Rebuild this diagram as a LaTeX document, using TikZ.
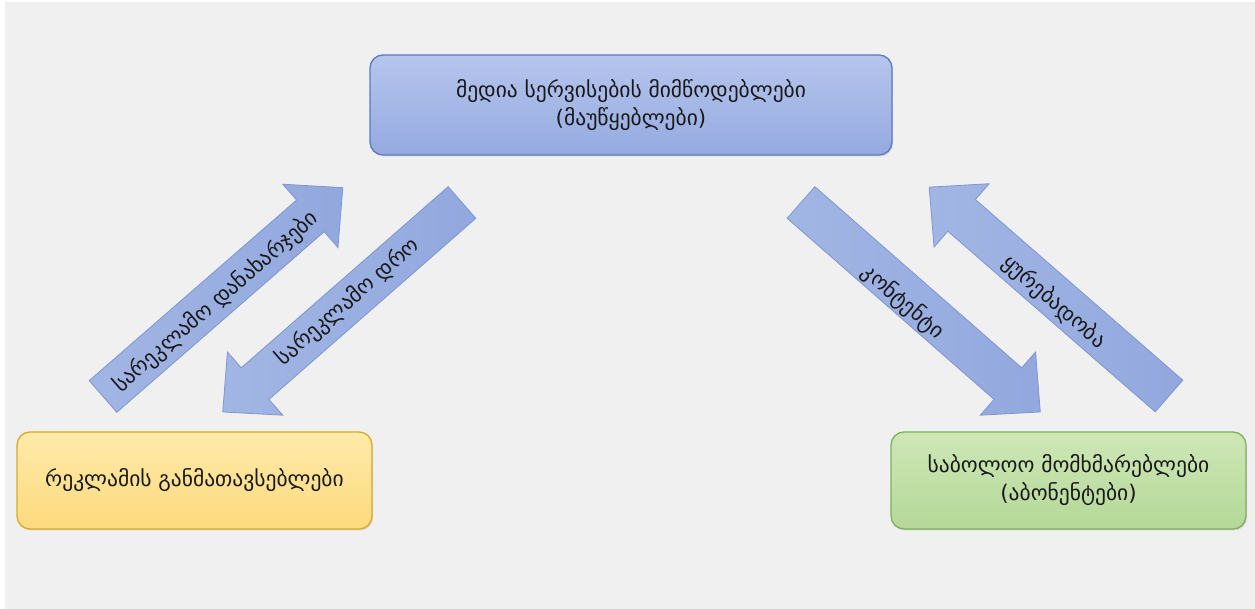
\documentclass[tikz,border=0pt]{standalone}
\usepackage{fontspec}
\setmainfont{DejaVu Sans}
\usetikzlibrary{shadows}
\definecolor{bgc}{RGB}{240,240,240}
\definecolor{bluetop}{RGB}{182,197,237}
\definecolor{bluebot}{RGB}{148,170,224}
\definecolor{blueline}{RGB}{92,122,190}
\definecolor{arrfill}{RGB}{162,182,228}
\definecolor{arrfill2}{RGB}{146,168,222}
\definecolor{arrline}{RGB}{125,150,212}
\definecolor{yeltop}{RGB}{254,234,170}
\definecolor{yelbot}{RGB}{253,218,125}
\definecolor{yelline}{RGB}{218,170,45}
\definecolor{grntop}{RGB}{206,231,182}
\definecolor{grnbot}{RGB}{180,216,152}
\definecolor{grnline}{RGB}{125,178,92}
\definecolor{txt}{RGB}{25,25,25}
\tikzset{
  box/.style={rounded corners=13pt, line width=1.3pt, align=center, text=txt,
    font=\fontsize{21.5}{28}\selectfont, inner sep=0pt,
    drop shadow={shadow xshift=1pt, shadow yshift=-1.5pt, opacity=0.25}},
  bluebox/.style={box, draw=blueline, top color=bluetop, bottom color=bluebot},
  yelbox/.style={box, draw=yelline, top color=yeltop, bottom color=yelbot},
  grnbox/.style={box, draw=grnline, top color=grntop, bottom color=grnbot},
  blockarrow/.style={draw=arrline, line width=0.8pt, left color=arrfill, right color=arrfill2},
  arrtext/.style={text=txt, font=\fontsize{21.5}{24}\selectfont, inner sep=0pt}
}
\newcommand{\mkarrow}[3]{%
  \begin{scope}[shift={(#1,#2)}, rotate=#3]
    \path[blockarrow] (0,-21) -- (275,-21) -- (275,-42) -- (318,0) -- (275,42) -- (275,21) -- (0,21) -- cycle;
  \end{scope}}
\begin{document}
\begin{tikzpicture}[x=1pt,y=1pt]
\useasboundingbox (0,0) rectangle (1255,609);
\fill[white] (0,0) rectangle (1255,609);
\fill[bgc] (5,0) rectangle (1255,607);

% boxes
\node[bluebox, minimum width=522pt, minimum height=100pt] (media) at (631,504)
  {მედია სერვისების მიმწოდებლები\\(მაუწყებლები)};
\node[yelbox, minimum width=355pt, minimum height=97pt] (adv) at (194.5,128.5)
  {რეკლამის განმათავსებლები};
\node[grnbox, minimum width=355pt, minimum height=97pt] (users) at (1068.5,128.5)
  {საბოლოო მომხმარებლები\\(აბონენტები)};

% block arrows
\mkarrow{103}{212.5}{41.05}
\mkarrow{462}{406.5}{221.2}
\mkarrow{801}{406.5}{-41.2}
\mkarrow{1169}{213}{138.95}

% arrow labels
\node[arrtext, rotate=41] (a1) at (216,307) {სარეკლამო დანახარჯები};
\node[arrtext, rotate=41] (a2) at (348,307) {სარეკლამო დრო};
\node[arrtext, rotate=-41] (a3) at (903,307) {კონტენტი};
\node[arrtext, rotate=-41] (a4) at (1054,307) {ყურებადობა};
\end{tikzpicture}
\end{document}
